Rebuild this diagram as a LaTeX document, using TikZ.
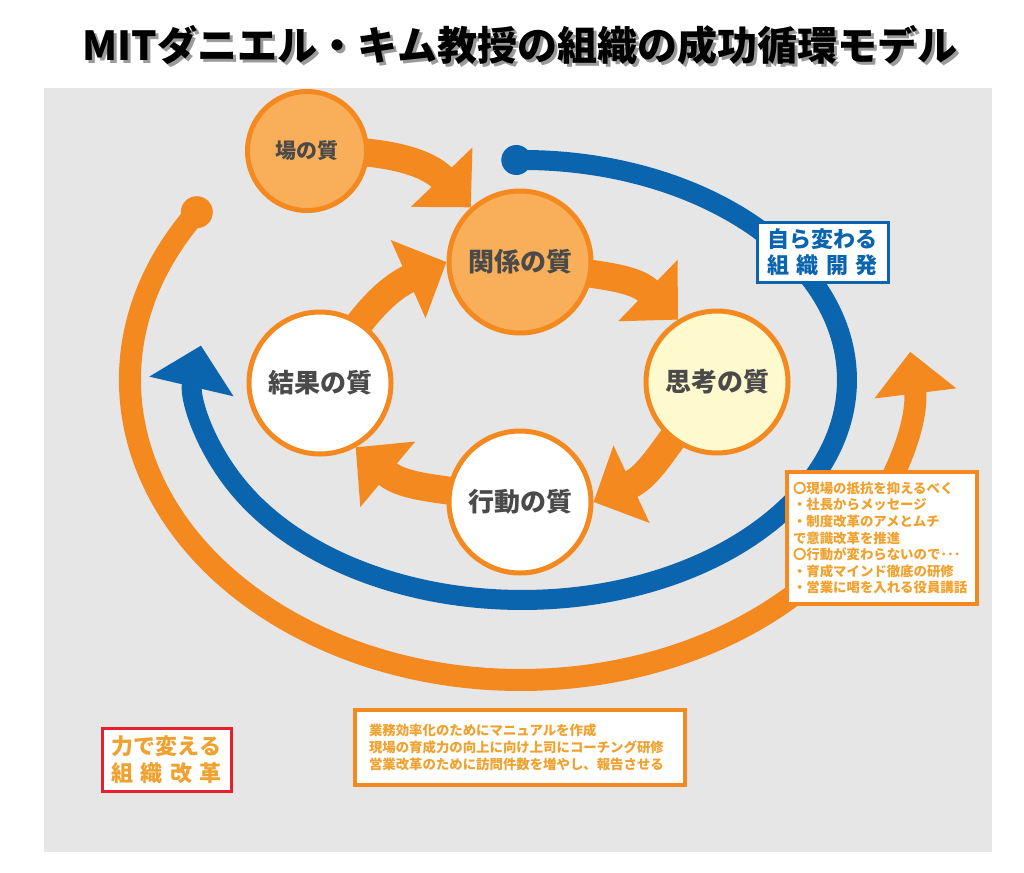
\documentclass[tikz,border=0pt]{standalone}
\usepackage{fontspec}
\setmainfont{Noto Sans CJK JP}
\usetikzlibrary{arrows.meta}
\definecolor{bggray}{HTML}{E6E6E6}
\definecolor{orng}{HTML}{F3891F}
\definecolor{lorng}{HTML}{F9AF5A}
\definecolor{lyel}{HTML}{FFF9CE}
\definecolor{blu}{HTML}{0A64AE}
\definecolor{dgray}{HTML}{4A4A4A}
\definecolor{txtor}{HTML}{F0A12E}
\definecolor{redb}{HTML}{E8202A}
\definecolor{shgray}{HTML}{9A9A9A}
\pgfdeclarelayer{bg}\pgfdeclarelayer{mid}\pgfsetlayers{bg,mid,main}
\newcommand{\titlestr}{MITダニエル・キム教授の組織の成功循環モデル}
\begin{document}
\begin{tikzpicture}[x=1pt,y=1pt,
 qual/.style={circle,draw=orng,line width=5pt,text=dgray,inner sep=0pt,minimum size=142pt,font=\bfseries\fontsize{26}{26}\selectfont},
 flow/.style={draw=orng,line width=28pt,-{Triangle[length=42pt,width=83pt]}},
 titletext/.style={font=\bfseries\fontsize{40}{40}\selectfont},
 notebox/.style={draw=orng,line width=4pt,fill=white,text=txtor,align=left,anchor=north west,font=\bfseries\fontsize{13.4}{17}\selectfont},
]
\useasboundingbox (0,0) rectangle (1024,-872);
\begin{pgfonlayer}{bg}
\fill[bggray] (44,-88) rectangle (992,-852);
% big orange arc
\coordinate (ostart) at (196.8,-212.2);
\fill[orng] (ostart) circle[radius=16];
\draw[orng,line width=22pt,-{Triangle[length=42pt,width=80pt]}] (ostart) arc[start angle=146,end angle=365.4,x radius=391,y radius=300];
% big blue arc
\coordinate (bstart) at (516.3,-160);
\fill[blu] (bstart) circle[radius=15];
\draw[blu,line width=20pt,-{Triangle[length=42pt,width=84pt]}] (bstart) arc[start angle=91,end angle=-189,x radius=325,y radius=220];
\end{pgfonlayer}

% title with drop shadow
\node[titletext,text=black,inner sep=0pt] (title) at (520,-47) {\rlap{\hspace{3pt}\raisebox{-3pt}{\color{shgray}\titlestr}}\titlestr};

% circles
\node[qual,fill=lorng,minimum size=119pt,font=\bfseries\fontsize{21}{21}\selectfont] (ba) at (307,-151) {場の質};
\node[qual,fill=lorng] (kankei) at (520,-262) {関係の質};
\node[qual,fill=lyel] (shikou) at (717,-382) {思考の質};
\node[qual,fill=white] (koudou) at (520,-502) {行動の質};
\node[qual,fill=white] (kekka) at (320,-383) {結果の質};

\begin{pgfonlayer}{mid}
\draw[flow] (ba.center) to[out=2,in=134] (kankei.132);
\draw[flow] (kankei.center) to[out=-12,in=136] (shikou.122);
\draw[flow] (shikou.center) to[out=228,in=25] (koudou.0);
\draw[flow] (koudou.center) to[out=168,in=-40] (kekka.-61);
\draw[flow] (kekka.center) to[out=60,in=204] (kankei.180);
\end{pgfonlayer}

% labels
\node[draw=blu,line width=3pt,fill=white,text=blu,minimum width=131pt,minimum height=60pt,inner sep=0pt,align=center,font=\bfseries\fontsize{22}{26}\selectfont] (selfbox) at (822.5,-252) {自ら変わる\\\makebox[110pt]{組\hfill 織\hfill 開\hfill 発}};
\node[draw=redb,line width=3pt,fill=white,text=txtor,minimum width=129pt,minimum height=63pt,inner sep=0pt,align=center,font=\bfseries\fontsize{22}{27}\selectfont] (forcebox) at (166.5,-759.5) {力で変える\\\makebox[110pt]{組\hfill 織\hfill 改\hfill 革}};

\node[notebox,minimum width=330pt,minimum height=75pt,inner xsep=14pt,inner ysep=7pt,text width=302pt] (notebottom) at (353,-708) {業務効率化のためにマニュアルを作成\\現場の育成力の向上に向け上司にコーチング研修\\営業改革のために訪問件数を増やし、報告させる};

\node[notebox,minimum width=190pt,minimum height=132pt,inner xsep=5pt,inner ysep=6pt,text width=178pt,font=\bfseries\fontsize{13.4}{16.6}\selectfont] (noteright) at (785,-470) {〇現場の抵抗を抑えるべく\\・社長からメッセージ\\・制度改革のアメとムチ\\で意識改革を推進\\〇行動が変わらないので･･･\\・育成マインド徹底の研修\\・営業に喝を入れる役員講話};
\end{tikzpicture}
\end{document}
